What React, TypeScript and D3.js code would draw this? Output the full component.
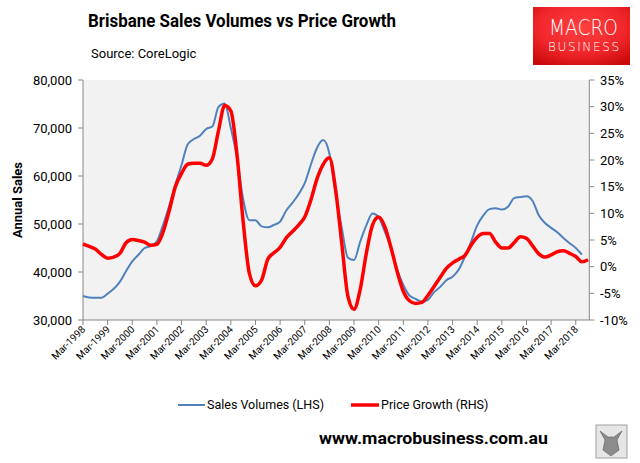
import * as d3 from 'd3';

// quarterly points from Mar-1998 (index 0 = Mar-1998, 4 per year)
const salesK = [
  35.0, 34.7, 34.65, 34.65, 35.5, 36.5, 38.0, 40.2, 42.2, 43.6,
  45.0, 45.4, 46.4, 49.8, 53.8, 58.2, 62.3, 66.6, 67.7, 68.4,
  69.8, 70.3, 74.4, 75.1, 70.0, 63.8, 55.2, 50.8, 50.8, 49.5,
  49.3, 49.8, 50.5, 52.8, 54.4, 56.2, 58.5, 62.4, 65.9, 67.5,
  64.7, 56.5, 49.3, 43.0, 42.5, 46.3, 49.7, 52.2, 51.4, 48.4,
  45.0, 40.5, 37.3, 35.1, 34.4, 33.8, 34.2, 35.8, 36.9, 38.3,
  39.0, 40.5, 43.2, 46.3, 49.7, 51.8, 53.1, 53.3, 53.0, 53.6,
  55.4, 55.6, 55.8, 54.8, 51.8, 50.2, 49.2, 48.3, 47.1, 46.0,
  45.0, 43.6,
];

const priceGrowth = [
  4.25, 3.8, 3.3, 2.3, 1.6, 1.8, 2.5, 4.5, 5.1, 4.9,
  4.6, 4.0, 4.2, 6.5, 10.5, 15.0, 17.5, 19.2, 19.4, 19.4,
  19.0, 20.2, 25.5, 30.2, 29.2, 21.0, 8.5, -1.2, -3.6, -2.5,
  1.4, 2.6, 3.6, 5.4, 6.6, 7.8, 9.3, 12.5, 16.5, 19.2,
  20.4, 14.5, 4.5, -5.5, -8.0, -4.3, 2.5, 7.8, 9.3, 7.5,
  3.6, -0.9, -4.6, -6.4, -6.9, -6.7, -5.4, -3.7, -2.0, -0.3,
  0.7, 1.4, 2.1, 4.0, 5.5, 6.2, 6.2, 4.6, 3.5, 3.5,
  4.5, 5.6, 5.3, 3.9, 2.4, 1.8, 2.2, 2.8, 3.0, 2.5,
  1.9, 0.9, 1.3,
];

const tickYears = d3.range(1998, 2019);
const leftTicks = [30000, 40000, 50000, 60000, 70000, 80000];
const rightTicks = [-10, -5, 0, 5, 10, 15, 20, 25, 30, 35];

const FONT = 'Roboto, "Noto Sans", sans-serif';
const LOGO_FONT = '"DejaVu Sans", sans-serif';

export default function App() {
  const left = 83;
  const right = 589.3;
  const top = 80;
  const bottom = 320;

  const x = d3.scaleLinear().domain([0, 82.2]).range([left, right]);
  const yL = d3.scaleLinear().domain([30000, 80000]).range([bottom, top]);
  const yR = d3.scaleLinear().domain([-10, 35]).range([bottom, top]);

  const salesLine = d3
    .line<number>()
    .x((_, i) => x(i))
    .y((d) => yL(d * 1000))
    .curve(d3.curveMonotoneX);
  const growthLine = d3
    .line<number>()
    .x((_, i) => x(i))
    .y((d) => yR(d))
    .curve(d3.curveMonotoneX);

  const axisColor = '#868686';

  return (
    <svg
      width={640}
      height={463}
      style={{ position: 'absolute', left: 0, top: 0, background: '#fff' }}
      fontFamily={FONT}
    >
      <defs>
        <radialGradient id="logoGrad" cx="50%" cy="35%" r="75%">
          <stop offset="0%" stopColor="#ff4040" />
          <stop offset="60%" stopColor="#f0262b" />
          <stop offset="100%" stopColor="#c80a0a" />
        </radialGradient>
      </defs>

      {/* title block */}
      <text x={88} y={27} fontSize={18} fontWeight="bold" fill="#000" textLength={308} lengthAdjust="spacingAndGlyphs">
        Brisbane Sales Volumes vs Price Growth
      </text>
      <text x={91} y={58} fontSize={13} fill="#000">
        Source: CoreLogic
      </text>

      {/* logo */}
      <rect x={533} y={7} width={97} height={58} fill="url(#logoGrad)" />
      <text x={549} y={35} fontSize={21} fill="#fff" fontFamily={LOGO_FONT} fontWeight={200} textLength={69} lengthAdjust="spacingAndGlyphs">
        MACRO
      </text>
      <text x={548} y={51} fontSize={12} fill="#fff" fontFamily={LOGO_FONT} fontWeight={200} textLength={71} lengthAdjust="spacing">
        BUSINESS
      </text>

      {/* plot area */}
      <rect x={left} y={top} width={right - left} height={bottom - top} fill="#f2f2f2" />

      {/* left axis */}
      <line x1={left} x2={left} y1={top} y2={bottom} stroke={axisColor} />
      {leftTicks.map((t) => (
        <g key={t}>
          <line x1={left - 5} x2={left} y1={yL(t)} y2={yL(t)} stroke={axisColor} />
          <text x={72} y={yL(t)} dy="0.35em" fontSize={13} textAnchor="end" fill="#000">
            {d3.format(',')(t)}
          </text>
        </g>
      ))}
      <text
        transform={`translate(22,${(top + bottom) / 2}) rotate(-90)`}
        textAnchor="middle"
        fontSize={13}
        fontWeight="bold"
        fill="#000"
      >
        Annual Sales
      </text>

      {/* right axis */}
      <line x1={right} x2={right} y1={top} y2={bottom} stroke={axisColor} />
      {rightTicks.map((t) => (
        <g key={t}>
          <line x1={right} x2={right + 5} y1={yR(t)} y2={yR(t)} stroke={axisColor} />
          <text x={600} y={yR(t)} dy="0.35em" fontSize={13} fill="#000">
            {`${t}%`}
          </text>
        </g>
      ))}

      {/* bottom axis */}
      <line x1={left} x2={right} y1={bottom} y2={bottom} stroke={axisColor} />
      {tickYears.map((yr) => {
        const px = x((yr - 1998) * 4);
        return (
          <g key={yr}>
            <line x1={px} x2={px} y1={bottom} y2={bottom + 5} stroke={axisColor} />
            <text
              transform={`translate(${px + 3},${bottom + 10}) rotate(-45)`}
              textAnchor="end"
              fontSize={10}
              fill="#000"
            >
              {`Mar-${yr}`}
            </text>
          </g>
        );
      })}

      {/* series */}
      <path d={salesLine(salesK) ?? ''} fill="none" stroke="#4f81bd" strokeWidth={2} />
      <path d={growthLine(priceGrowth) ?? ''} fill="none" stroke="#ff0000" strokeWidth={3.5} strokeLinejoin="round" />

      {/* legend */}
      <line x1={178} x2={205} y1={405} y2={405} stroke="#4f81bd" strokeWidth={2} />
      <text x={207} y={405} dy="0.35em" fontSize={12.5} fill="#000">
        Sales Volumes (LHS)
      </text>
      <line x1={351} x2={379} y1={405} y2={405} stroke="#ff0000" strokeWidth={3.5} />
      <text x={381} y={405} dy="0.35em" fontSize={12.5} fill="#000">
        Price Growth (RHS)
      </text>

      {/* footer */}
      <text x={319} y={438} dy="0.35em" fontSize={17} fontWeight="bold" fill="#000" textLength={229} lengthAdjust="spacingAndGlyphs">
        www.macrobusiness.com.au
      </text>
      <rect x={596} y={425} width={31} height={33} fill="#e6e6e6" stroke="#a0a0a0" strokeWidth={1} />
      <path
        d="M600,431 L605,440 L603,450 L611,456 L619,450 L617,440 L622,431 L614,437 L608,437 Z"
        fill="#8c8c8c"
        stroke="#5a5a5a"
        strokeWidth={0.6}
      />
    </svg>
  );
}
